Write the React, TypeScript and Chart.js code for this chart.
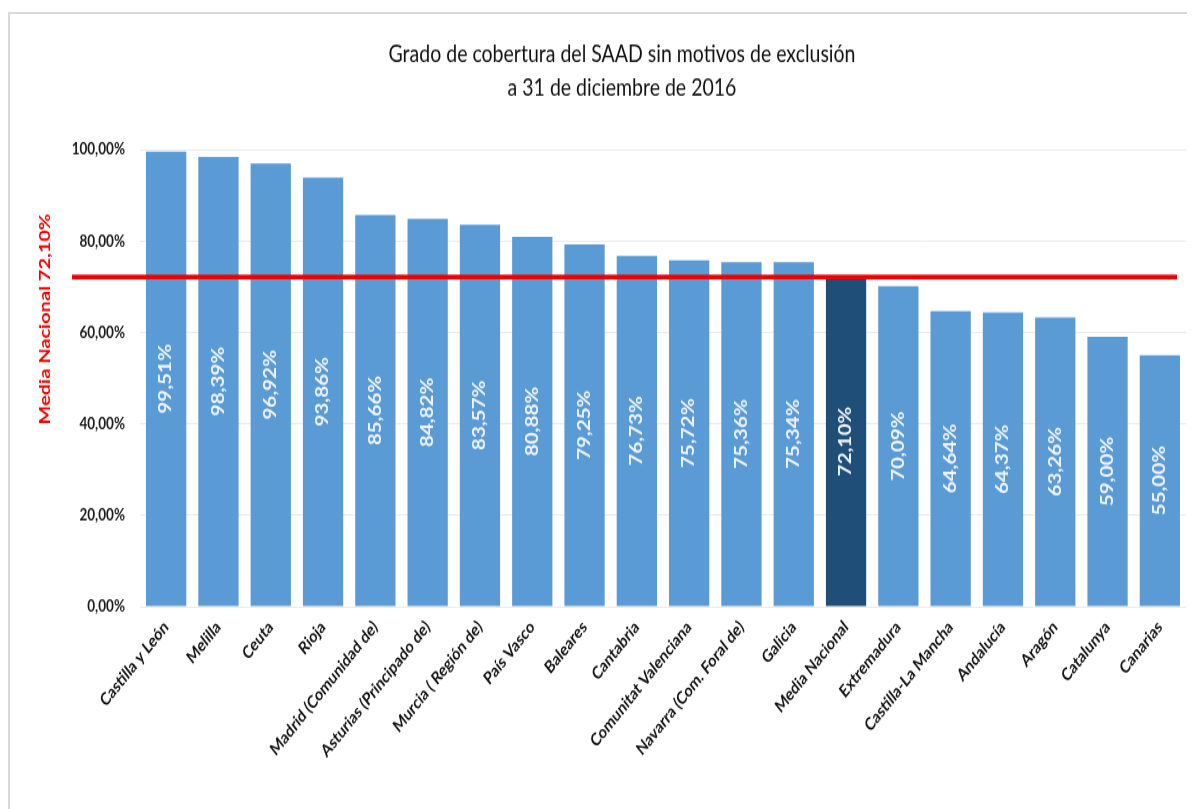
import React, { useEffect, useRef } from "react";
import { Chart, registerables } from "chart.js";

Chart.register(...registerables);

// Comunidades autónomas ordenadas por grado de cobertura
const categories: string[] = [
  "Castilla y León",
  "Melilla",
  "Ceuta",
  "Rioja",
  "Madrid (Comunidad de)",
  "Asturias (Principado de)",
  "Murcia ( Región de)",
  "País Vasco",
  "Baleares",
  "Cantabria",
  "Comunitat Valenciana",
  "Navarra (Com. Foral de)",
  "Galicia",
  "Media Nacional",
  "Extremadura",
  "Castilla-La Mancha",
  "Andalucía",
  "Aragón",
  "Catalunya",
  "Canarias",
];

// Grado de cobertura (%)
const coverage: number[] = [
  99.51, 98.39, 96.92, 93.86, 85.66, 84.82, 83.57, 80.88, 79.25, 76.73, 75.72,
  75.36, 75.34, 72.1, 70.09, 64.64, 64.37, 63.26, 59.0, 55.0,
];

const MEDIA_NACIONAL = 72.1;
const yTicks: number[] = [0, 20, 40, 60, 80, 100];

const titleLines: string[] = [
  "Grado de cobertura del SAAD sin motivos de exclusión",
  "a 31 de diciembre de 2016",
];

const BAR_COLOR = "#5b9bd5";
const MEDIA_COLOR = "#1f4e79";
const RED = "#ee0000";
const FONT = "Lato, 'Open Sans', sans-serif";

// canvas buffer is drawn compressed vertically and stretched by CSS
const CANVAS_W = 1187;
const CANVAS_H = 638;
const DISPLAY_H = 797;

const fmt = (v: number) => v.toFixed(2).replace(".", ",") + "%";

const overlayPlugin = {
  id: "overlay",
  afterDatasetsDraw(chart: any) {
    const { ctx, chartArea } = chart;
    const yScale = chart.scales.y;
    const meta = chart.getDatasetMeta(0);

    // value labels inside bars, rotated
    ctx.save();
    ctx.fillStyle = "#eef3fa";
    ctx.font = `bold 16.5px ${FONT}`;
    ctx.textAlign = "center";
    ctx.textBaseline = "middle";
    meta.data.forEach((bar: any, i: number) => {
      const cy = (bar.y + bar.base) / 2;
      ctx.save();
      ctx.translate(bar.x, cy);
      ctx.rotate(-Math.PI / 2);
      ctx.fillText(fmt(coverage[i]), 0, 0);
      ctx.restore();
    });
    ctx.restore();

    // national average line
    const yLine = yScale.getPixelForValue(MEDIA_NACIONAL);
    ctx.save();
    ctx.strokeStyle = RED;
    ctx.lineWidth = 3.6;
    ctx.beginPath();
    ctx.moveTo(64, yLine);
    ctx.lineTo(1169, yLine);
    ctx.stroke();
    ctx.restore();

    // national average label
    ctx.save();
    ctx.fillStyle = RED;
    ctx.font = `bold 16px ${FONT}`;
    ctx.textAlign = "center";
    ctx.textBaseline = "middle";
    ctx.translate(37, chartArea.top + 0.371 * (chartArea.bottom - chartArea.top));
    ctx.rotate(-Math.PI / 2);
    ctx.fillText("Media Nacional " + fmt(MEDIA_NACIONAL), 0, 0);
    ctx.restore();

    // title
    ctx.save();
    ctx.fillStyle = "#111111";
    ctx.font = `19.5px ${FONT}`;
    ctx.textAlign = "center";
    ctx.textBaseline = "alphabetic";
    ctx.fillText(titleLines[0], 614, 40);
    ctx.fillText(titleLines[1], 614, 66.5);
    ctx.restore();
  },
};

export default function App() {
  const canvasRef = useRef<HTMLCanvasElement | null>(null);

  useEffect(() => {
    const canvas = canvasRef.current;
    if (!canvas) return;
    const chart = new Chart(canvas, {
      type: "bar",
      data: {
        labels: categories,
        datasets: [
          {
            data: coverage,
            backgroundColor: categories.map((c) =>
              c === "Media Nacional" ? MEDIA_COLOR : BAR_COLOR
            ),
            borderWidth: 0,
            categoryPercentage: 0.77,
            barPercentage: 1,
          },
        ],
      },
      plugins: [overlayPlugin],
      options: {
        responsive: false,
        animation: false,
        devicePixelRatio: 1,
        layout: { padding: { top: 110, right: 9, left: 0, bottom: 0 } },
        plugins: {
          legend: { display: false },
          title: { display: false },
          tooltip: { enabled: false },
        },
        scales: {
          x: {
            afterFit: (scale: any) => {
              scale.height = 162;
            },
            grid: { display: false, drawTicks: false },
            border: { display: false },
            ticks: {
              autoSkip: false,
              maxRotation: 45,
              minRotation: 45,
              padding: 8,
              color: "#111111",
              font: { family: FONT, size: 14, weight: "bold" },
            },
          },
          y: {
            min: 0,
            max: 100,
            afterFit: (scale: any) => {
              scale.width = 132;
            },
            afterBuildTicks: (scale: any) => {
              scale.ticks = yTicks.map((v) => ({ value: v }));
            },
            grid: { color: "#ebebeb", lineWidth: 1, drawTicks: false },
            border: { display: false },
            ticks: {
              padding: 15,
              color: "#1a1a1a",
              font: { family: FONT, size: 13.5, weight: "bold" },
              callback: (v: any) => fmt(Number(v)),
            },
          },
        },
      },
    });
    return () => chart.destroy();
  }, []);

  return (
    <div style={{ paddingTop: 4 }}>
      <div style={{ position: "relative", width: CANVAS_W, height: DISPLAY_H }}>
        <canvas
          ref={canvasRef}
          width={CANVAS_W}
          height={CANVAS_H}
          style={{ display: "block", width: CANVAS_W, height: DISPLAY_H }}
        />
        <div
          style={{
            position: "absolute",
            left: 0,
            top: 0,
            right: -10,
            bottom: -20,
            borderTop: "2px solid #dadada",
            borderLeft: "2px solid #dadada",
            pointerEvents: "none",
          }}
        />
      </div>
    </div>
  );
}
